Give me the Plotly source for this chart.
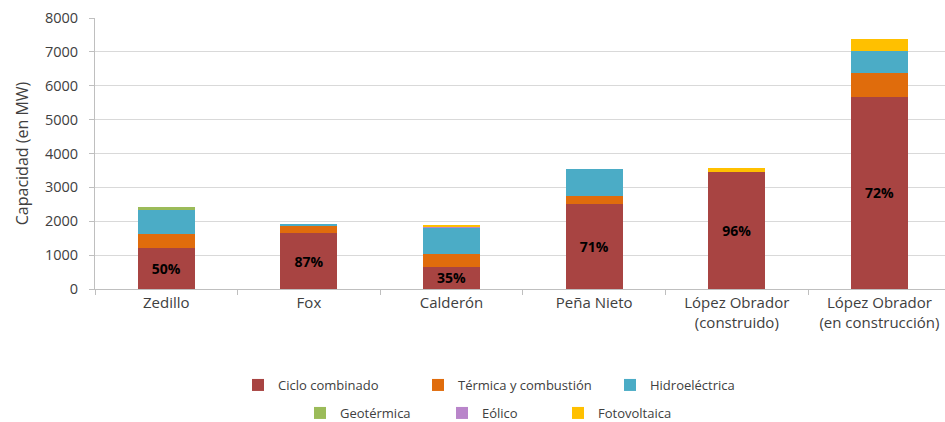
import plotly.graph_objects as go

# sexenios
periodos = ["Zedillo", "Fox", "Calderón", "Peña Nieto",
            "López Obrador<br>(construido)", "López Obrador<br>(en construcción)"]

# capacidad añadida por tecnología (MW)
ciclo_combinado = [1220, 1640, 660, 2500, 3450, 5670]
termica = [395, 240, 360, 260, 0, 720]
hidro = [715, 10, 800, 770, 0, 630]
geotermica = [100, 0, 0, 0, 0, 0]
eolico = [0, 0, 30, 0, 0, 0]
fotovoltaica = [0, 0, 10, 0, 130, 360]

# porcentaje del ciclo combinado
etiquetas_cc = ["50%", "87%", "35%", "71%", "96%", "72%"]

series = [
    ("Ciclo combinado", ciclo_combinado, "#A84442"),
    ("Térmica y combustión", termica, "#E06C0C"),
    ("Hidroeléctrica", hidro, "#4BACC6"),
    ("Geotérmica", geotermica, "#9BBB59"),
    ("Eólico", eolico, "#B985CA"),
    ("Fotovoltaica", fotovoltaica, "#FFC000"),
]

# posición de cada entrada de la leyenda (px del lienzo: inicio del texto, fila)
leyenda_x = [277, 457, 649, 339, 481, 597]
leyenda_y = [385, 385, 385, 413, 413, 413]

W, H = 945, 422

fig = go.Figure()
legends = {}
for i, (nombre, valores, color) in enumerate(series):
    kw = {}
    if nombre == "Ciclo combinado":
        kw = dict(text=etiquetas_cc, textposition="inside", insidetextanchor="middle",
                  constraintext="none",
                  textfont=dict(color="black", size=14, family="Open Sans"),
                  texttemplate="<b>%{text}</b>")
    leg = f"legend{i + 2}"
    fig.add_trace(go.Bar(
        x=periodos, y=valores, name=nombre, legend=leg,
        marker=dict(color=color, line=dict(width=0)),
        **kw
    ))
    legends[leg] = dict(
        xref="container", yref="container",
        x=(leyenda_x[i] - 39) / W, xanchor="left",
        y=1 - leyenda_y[i] / H, yanchor="middle",
        orientation="h", bgcolor="rgba(0,0,0,0)",
        font=dict(size=13, color="#404040"),
    )

fig.update_layout(
    width=W, height=H,
    barmode="stack",
    bargap=0.6,
    margin=dict(l=95, r=0, t=18, b=133, autoexpand=False),
    paper_bgcolor="white",
    plot_bgcolor="white",
    font=dict(family="Open Sans", size=13, color="#404040"),
    showlegend=True,
    **legends,
)

fig.update_xaxes(
    range=[-0.5, 5.46],
    showline=True, linecolor="#BFBFBF", linewidth=1,
    ticks="outside", tickson="boundaries", ticklen=5, tickcolor="#BFBFBF",
    tickfont=dict(size=15, color="#404040"),
)
fig.update_yaxes(
    range=[0, 8000], dtick=1000,
    showgrid=True, gridcolor="#D9D9D9", gridwidth=1,
    showline=True, linecolor="#BFBFBF", linewidth=1,
    ticks="outside", ticklen=5, tickcolor="#BFBFBF",
    ticklabelstandoff=8,
    tickfont=dict(size=14.5, color="#404040"),
    title=dict(text="Capacidad (en MW)", font=dict(size=16, color="#404040"), standoff=12),
    zeroline=False,
)

# sin el margen por defecto del <body>, para que el lienzo ocupe la ventana
fig.write_html("out.html", config={"displayModeBar": False},
               post_script="document.body.style.margin='0';")
